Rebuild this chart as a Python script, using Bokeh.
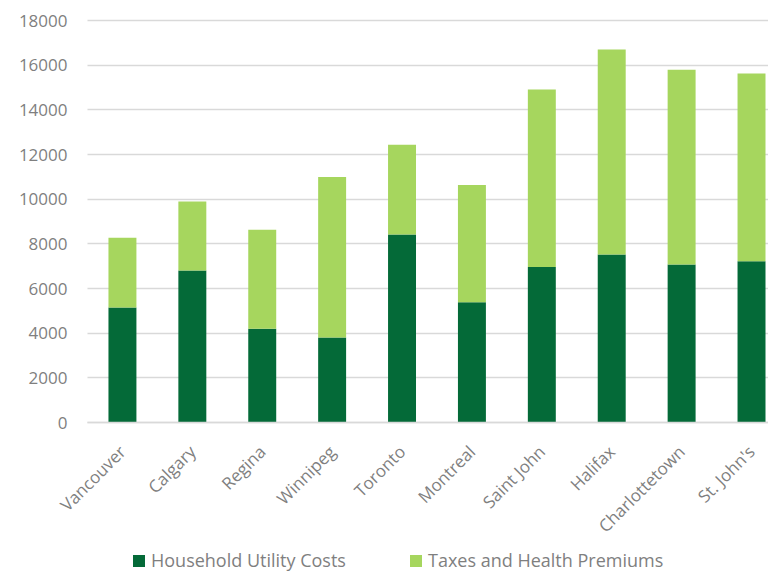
import numpy as np
from bokeh.plotting import figure
from bokeh.models import ColumnDataSource, FixedTicker, Range1d, Legend, LegendItem
from bokeh.embed import file_html
from bokeh.resources import INLINE

cities = ["Vancouver", "Calgary", "Regina", "Winnipeg", "Toronto", "Montreal",
          "Saint John", "Halifax", "Charlottetown", "St. John's"]
utility = [5150, 6810, 4200, 3810, 8420, 5390, 6960, 7520, 7080, 7220]
taxes = [3120, 3090, 4430, 7180, 4020, 5250, 7950, 9180, 8710, 8410]
y_ticks = [0, 2000, 4000, 6000, 8000, 10000, 12000, 14000, 16000, 18000]
series_names = ["Household Utility Costs", "Taxes and Health Premiums"]

DARK = "#046A38"
LIGHT = "#A6D65E"
GRAY = "#7F7F7F"
FONT = "Open Sans"

xs = list(range(len(cities)))
src = ColumnDataSource(dict(x=xs, utility=utility, taxes=taxes))

X_LEFT = -0.5          # left edge of the plot area (first category band)
X_START = -1.7446      # room for the value labels left of the plot area
X_END = 9.243

# frame spans the plot area plus the strips around it (labels + legend)
p = figure(frame_width=768, frame_height=573, output_backend="svg", toolbar_location=None,
           x_range=Range1d(X_START, X_END), y_range=Range1d(-6761, 18896),
           min_border_left=0, min_border_right=0, min_border_top=0,
           min_border_bottom=0)
p.outline_line_color = None
p.background_fill_color = "white"
p.border_fill_color = "white"

rs = p.vbar_stack(["utility", "taxes"], x="x", width=0.4, color=[DARK, LIGHT],
                  line_color=None, source=src)

p.xgrid.grid_line_color = None
ygrid = p.ygrid[0]
ygrid.grid_line_color = "#D9D9D9"
ygrid.grid_line_width = 1.3
ygrid.ticker = FixedTicker(ticks=y_ticks)
if "cross_bounds" in ygrid.properties():
    ygrid.cross_bounds = (X_LEFT, X_END)
else:
    ygrid.grid_line_color = None
    p.segment(x0=[X_LEFT] * len(y_ticks), x1=[X_END] * len(y_ticks),
              y0=y_ticks, y1=y_ticks, line_color="#D9D9D9", line_width=1.3,
              level="underlay")

p.yaxis.fixed_location = X_LEFT
p.yaxis.ticker = FixedTicker(ticks=y_ticks)
p.yaxis.axis_line_color = None
p.yaxis.major_tick_line_color = None
p.yaxis.minor_tick_line_color = None
p.yaxis.major_label_standoff = 14
p.yaxis.major_label_text_font = FONT
p.yaxis.major_label_text_font_size = "17px"
p.yaxis.major_label_text_color = GRAY

p.xaxis.fixed_location = 0
p.xaxis.bounds = (X_LEFT, X_END)
p.xaxis.ticker = FixedTicker(ticks=xs)
p.xaxis.major_label_overrides = {i: c for i, c in zip(xs, cities)}
p.xaxis.axis_line_color = "#D9D9D9"
p.xaxis.axis_line_width = 1.3
p.xaxis.major_tick_line_color = None
p.xaxis.minor_tick_line_color = None
p.xaxis.major_label_orientation = np.pi / 4
p.xaxis.major_label_standoff = 20
p.xaxis.major_label_text_font = FONT
p.xaxis.major_label_text_font_size = "17px"
p.xaxis.major_label_text_color = GRAY

legend = Legend(items=[LegendItem(label=series_names[0], renderers=[rs[0]]),
                       LegendItem(label=series_names[1], renderers=[rs[1]])],
                orientation="horizontal", location=(131, 1))
legend.glyph_width = 15
legend.glyph_height = 15
legend.label_standoff = 5
legend.label_width = 216
legend.spacing = 41
legend.padding = 0
legend.margin = 0
legend.border_line_color = None
legend.background_fill_alpha = 0
legend.label_text_font = FONT
legend.label_text_font_size = "18px"
legend.label_text_color = GRAY
p.add_layout(legend, "center")

open("out.html", "w").write(file_html(p, INLINE))
